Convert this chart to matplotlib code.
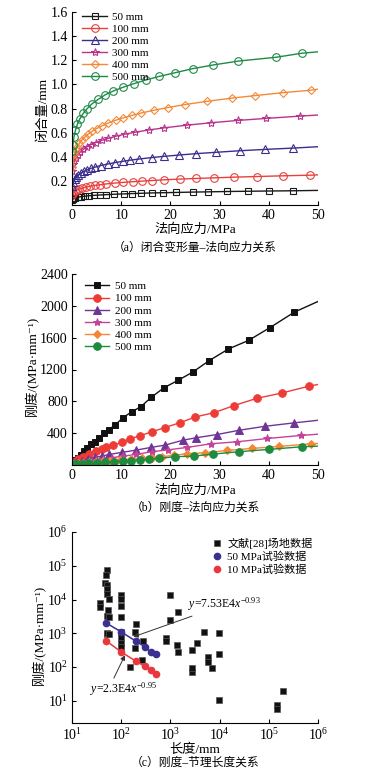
import numpy as np
import matplotlib
matplotlib.use('Agg')
import matplotlib.pyplot as plt

plt.rcParams['font.family'] = ['Liberation Serif', 'Noto Sans CJK SC', 'DejaVu Sans']
plt.rcParams['mathtext.fontset'] = 'custom'
plt.rcParams['mathtext.rm'] = 'Liberation Serif'
plt.rcParams['mathtext.it'] = 'Liberation Serif:italic'

labels = ['50 mm', '100 mm', '200 mm', '300 mm', '400 mm', '500 mm']

# (a) closure vs normal stress  (first point = origin, last point = line end at 50 MPa)
a_x_50 = [0, 0.1, 0.3, 0.5, 0.7, 1.2, 1.8, 2.6, 3.5, 4.5, 5.7, 7.0, 8.5, 10.5, 12.2, 14.0, 16.2, 18.5, 21.2, 24.5, 27.7, 31.6, 35.8, 40.0, 45.0, 50]
a_y_50 = [0, 0.042, 0.051, 0.055, 0.058, 0.064, 0.069, 0.073, 0.077, 0.080, 0.083, 0.086, 0.089, 0.092, 0.095, 0.097, 0.100, 0.102, 0.104, 0.107, 0.109, 0.112, 0.114, 0.116, 0.118, 0.121]
a_x_100 = [0, 0.1, 0.3, 0.6, 1.0, 1.5, 2.1, 2.8, 3.6, 4.6, 5.7, 7.0, 8.7, 10.3, 12.3, 14.2, 16.3, 18.8, 22.0, 25.2, 28.9, 33.0, 37.6, 42.8, 48.4, 50]
a_y_100 = [0, 0.081, 0.099, 0.112, 0.123, 0.132, 0.141, 0.148, 0.155, 0.162, 0.168, 0.175, 0.182, 0.187, 0.193, 0.198, 0.203, 0.209, 0.215, 0.220, 0.225, 0.231, 0.236, 0.242, 0.247, 0.250]
a_x_200 = [0, 0.1, 0.3, 0.6, 0.9, 1.3, 1.8, 2.4, 3.0, 3.8, 4.7, 5.8, 7.3, 8.8, 10.3, 11.7, 13.6, 16.2, 18.6, 21.7, 25.3, 29.3, 34.2, 39.3, 45.0, 50]
a_y_200 = [0, 0.157, 0.192, 0.217, 0.233, 0.249, 0.265, 0.279, 0.290, 0.303, 0.314, 0.327, 0.340, 0.352, 0.362, 0.371, 0.381, 0.393, 0.403, 0.414, 0.426, 0.437, 0.450, 0.461, 0.472, 0.483]
a_x_300 = [0, 0.1, 0.3, 0.5, 0.8, 1.2, 1.7, 2.3, 3.0, 3.8, 4.8, 6.0, 7.4, 9.0, 10.8, 12.8, 15.6, 18.8, 23.4, 28.3, 33.7, 39.5, 46.4, 50]
a_y_300 = [0, 0.283, 0.336, 0.364, 0.391, 0.417, 0.440, 0.461, 0.481, 0.499, 0.517, 0.535, 0.553, 0.571, 0.587, 0.603, 0.622, 0.640, 0.662, 0.682, 0.701, 0.718, 0.737, 0.746]
a_x_400 = [0, 0.1, 0.3, 0.5, 0.8, 1.1, 1.5, 2.0, 2.6, 3.3, 4.1, 5.0, 6.1, 7.4, 8.9, 10.3, 12.1, 14.0, 16.6, 19.5, 23.0, 27.5, 32.5, 37.2, 42.8, 48.6, 50]
a_y_400 = [0, 0.314, 0.383, 0.419, 0.456, 0.483, 0.511, 0.538, 0.563, 0.588, 0.611, 0.634, 0.656, 0.680, 0.703, 0.721, 0.742, 0.762, 0.785, 0.808, 0.833, 0.860, 0.886, 0.907, 0.931, 0.952, 0.960]
a_x_500 = [0, 0.1, 0.2, 0.4, 0.7, 1.1, 1.6, 2.3, 3.1, 4.1, 5.3, 6.8, 8.4, 10.3, 12.5, 15.0, 17.7, 21.0, 24.5, 28.7, 33.8, 41.5, 46.7, 50]
a_y_500 = [0, 0.446, 0.500, 0.565, 0.620, 0.670, 0.715, 0.760, 0.800, 0.840, 0.875, 0.915, 0.945, 0.975, 1.005, 1.036, 1.066, 1.097, 1.130, 1.161, 1.193, 1.225, 1.258, 1.270]

# (b) stiffness vs normal stress (last point = line end at 50 MPa)
b_x_50 = [0.3, 0.7, 1.3, 1.8, 2.5, 3.1, 3.8, 4.6, 5.5, 6.5, 7.5, 8.7, 10.4, 12.1, 14.0, 16.1, 18.7, 21.5, 24.5, 27.9, 31.8, 35.9, 40.2, 45.2, 50]
b_y_50 = [45, 58, 92, 129, 171, 212, 262, 292, 342, 396, 446, 500, 596, 667, 733, 850, 971, 1062, 1166, 1312, 1458, 1566, 1725, 1921, 2055]
b_x_100 = [0.4, 1.3, 2.3, 3.5, 4.9, 6.0, 7.0, 8.4, 10.1, 11.8, 13.8, 16.2, 18.9, 22.0, 25.1, 28.9, 32.9, 37.5, 42.6, 48.2, 50]
b_y_100 = [42, 75, 104, 137, 175, 196, 221, 250, 283, 329, 367, 417, 471, 533, 604, 658, 746, 837, 904, 991, 1012]
b_x_200 = [0.4, 1.0, 2.0, 3.3, 4.7, 6.0, 7.6, 10.1, 13.1, 16.0, 18.9, 22.6, 25.2, 29.5, 34.0, 39.3, 45.1, 50]
b_y_200 = [25, 38, 50, 75, 96, 112, 133, 158, 188, 220, 250, 312, 342, 383, 437, 487, 529, 562]
b_x_300 = [0.4, 1.2, 2.3, 3.5, 4.9, 6.4, 8.1, 10.4, 13.1, 16.2, 19.5, 23.4, 28.3, 33.6, 39.7, 46.5, 50]
b_y_300 = [20, 30, 40, 52, 62, 75, 92, 112, 133, 167, 190, 221, 267, 292, 333, 371, 387]
b_x_400 = [0.3, 1.2, 2.3, 3.5, 4.8, 6.2, 7.8, 9.8, 11.9, 14.2, 16.2, 18.2, 20.7, 23.3, 27.1, 31.6, 36.5, 42.1, 48.6, 50]
b_y_400 = [12, 20, 27, 34, 41, 48, 55, 62, 72, 83, 93, 104, 122, 142, 154, 183, 208, 233, 267, 270]
b_x_500 = [0.3, 1.1, 2.2, 3.4, 5.0, 6.7, 8.5, 10.4, 12.0, 13.8, 15.6, 17.6, 20.9, 24.7, 28.7, 33.9, 40.0, 46.7, 50]
b_y_500 = [8, 12, 16, 21, 27, 33, 42, 50, 56, 62, 72, 83, 104, 112, 137, 167, 196, 229, 237]

# (c) stiffness vs joint length
field_len = [37, 37, 50.7, 49, 46.8, 50.9, 50.7, 50.7, 57, 50.7, 57, 54.7, 50.7, 50.7, 57, 98, 98, 101, 101, 101, 101, 101,
             101, 197, 192, 192, 151, 260, 280, 810, 810, 980, 980, 1350, 1400, 1450, 2700, 2790, 2790, 3550, 4900,
             5900, 5900, 6900, 9750, 9800, 9750, 145000, 145000, 190000]
field_k = [7900, 6000, 73000, 54600, 30000, 27500, 20400, 14700, 10400, 3160, 3050, 5000, 980, 1050, 980, 14000, 10400, 6300,
           3050, 720, 520, 400, 1100, 1900, 1070, 370, 100, 160, 600, 720, 575, 14000, 2540, 440, 277, 4200, 71, 330,
           95, 500, 1100, 200, 138, 92, 240, 1020, 10.4, 7.6, 5.8, 20]
test_len = [50, 100, 200, 300, 400, 500]
k_50mpa = [2000, 1100, 580, 400, 277, 245]
k_10mpa = [590, 280, 148, 105, 79, 63]

colors_a = ['#1a1a1a', '#e8413c', '#3b2d8c', '#b8348c', '#f28a3a', '#1f8a48']
colors_b = ['#111111', '#ee3b35', '#6f3596', '#c4439a', '#f58634', '#1d8a3e']
markers = ['s', 'o', '^', '*', 'D', 'o']
msizes = [4.5, 5.5, 5.5, 6, 4.5, 5.5]

fig = plt.figure(figsize=(3.68, 7.75), dpi=100)
ax_a = fig.add_axes([72/368, 1-205/775, 246/368, 193/775])
ax_b = fig.add_axes([72/368, 1-465/775, 246/368, 191/775])
ax_c = fig.add_axes([72/368, 1-723/775, 246/368, 191/775])


def style(ax):
    ax.spines['top'].set_visible(False)
    ax.spines['right'].set_visible(False)
    for s in ['left', 'bottom']:
        ax.spines[s].set_linewidth(0.8)
    ax.tick_params(direction='in', labelsize=10, length=3, width=0.8, pad=3)


# ---- (a)
a_xs = [a_x_50, a_x_100, a_x_200, a_x_300, a_x_400, a_x_500]
a_ys = [a_y_50, a_y_100, a_y_200, a_y_300, a_y_400, a_y_500]
for i in range(6):
    ax_a.plot(a_xs[i], a_ys[i], color=colors_a[i], lw=1, marker=markers[i], ms=msizes[i],
              mfc='none', mew=0.8, markevery=slice(1, -1), label=labels[i])
ax_a.set_xlim(0, 50)
ax_a.set_ylim(0, 1.6)
ax_a.set_xticks([0, 10, 20, 30, 40, 50])
ax_a.set_yticks([0.2, 0.4, 0.6, 0.8, 1.0, 1.2, 1.4, 1.6])
ax_a.set_yticklabels(['0.2', '0.4', '0.6', '0.8', '1.0', '1.2', '1.4', '1.6'])
style(ax_a)
ax_a.set_xlabel('法向应力/MPa', fontsize=9.5)
ax_a.set_ylabel('闭合量/mm', fontsize=9.5)
ax_a.xaxis.set_label_coords(0.5, -0.095)
ax_a.yaxis.set_label_coords(-0.095, 0.5)
ax_a.legend(loc='upper left', frameon=False, fontsize=8, handlelength=2.2, handletextpad=0.5,
            labelspacing=0.2, borderaxespad=0.1, bbox_to_anchor=(0.02, 1.03))

# ---- (b)
b_xs = [b_x_50, b_x_100, b_x_200, b_x_300, b_x_400, b_x_500]
b_ys = [b_y_50, b_y_100, b_y_200, b_y_300, b_y_400, b_y_500]
for i in range(6):
    ax_b.plot(b_xs[i], b_ys[i], color=colors_b[i], lw=1, marker=markers[i], ms=msizes[i],
              mec=colors_b[i], mew=0.7, markevery=slice(0, -1), label=labels[i])
ax_b.set_xlim(0, 50)
ax_b.set_ylim(0, 2400)
ax_b.set_xticks([0, 10, 20, 30, 40, 50])
ax_b.set_yticks([400, 800, 1200, 1600, 2000, 2400])
style(ax_b)
ax_b.set_xlabel('法向应力/MPa', fontsize=9.5)
ax_b.set_ylabel('刚度/(MPa·mm⁻¹)', fontsize=9.5)
ax_b.xaxis.set_label_coords(0.5, -0.1)
ax_b.yaxis.set_label_coords(-0.135, 0.52)
ax_b.legend(loc='upper left', frameon=False, fontsize=8, handlelength=2.2, handletextpad=0.5,
            labelspacing=0.22, borderaxespad=0.1, bbox_to_anchor=(0.03, 0.99))

# ---- (c)
ax_c.plot(field_len, field_k, ls='none', marker='s', ms=5, mfc='#111111', mec='#555555', mew=0.5,
          label='文献[28]场地数据')
ax_c.plot(test_len, k_50mpa, color='#3a3092', lw=1.1)
ax_c.plot(test_len, k_50mpa, ls='none', marker='o', ms=4.5, color='#3a3092', label='50 MPa试验数据')
ax_c.plot(test_len, k_10mpa, color='#e8383d', lw=1.1)
ax_c.plot(test_len, k_10mpa, ls='none', marker='o', ms=4.5, color='#e8383d', label='10 MPa试验数据')
ax_c.set_xscale('log')
ax_c.set_yscale('log')
ax_c.set_xlim(10, 1e6)
ax_c.set_ylim(2.2, 1e6)
ax_c.set_xticks([1e1, 1e2, 1e3, 1e4, 1e5, 1e6])
ax_c.set_yticks([1e1, 1e2, 1e3, 1e4, 1e5, 1e6])
ax_c.minorticks_off()
style(ax_c)
ax_c.set_xlabel('长度/mm', fontsize=9.5)
ax_c.set_ylabel('刚度/(MPa·mm⁻¹)', fontsize=9.5)
ax_c.xaxis.set_label_coords(0.5, -0.11)
ax_c.yaxis.set_label_coords(-0.105, 0.46)
ax_c.legend(loc='upper right', frameon=False, fontsize=8, handletextpad=0.3, handlelength=1.2,
            labelspacing=0.25, borderaxespad=0.1, bbox_to_anchor=(1.0, 1.0))

ax_c.annotate('$y$=7.53E4$x^{-0.93}$', xy=(176, 782), xytext=(2300, 7100), fontsize=8.5,
              ha='left', va='center',
              arrowprops=dict(arrowstyle='-|>', color='#333333', lw=0.7, mutation_scale=7,
                              shrinkA=0, shrinkB=0, relpos=(0.16, 0.0)))
ax_c.annotate('$y$=2.3E4$x^{-0.95}$', xy=(119, 224), xytext=(23, 21.4), fontsize=8.5,
              ha='left', va='center',
              arrowprops=dict(arrowstyle='-|>', color='#333333', lw=0.7, mutation_scale=7,
                              shrinkA=0, shrinkB=0, relpos=(0.34, 1.0)))

# captions
fig.text(195/368, 1-248/775, '（a）闭合变形量–法向应力关系', ha='center', va='center', fontsize=8.5)
fig.text(195/368, 1-508/775, '（b）刚度–法向应力关系', ha='center', va='center', fontsize=8.5)
fig.text(195/368, 1-763/775, '（c）刚度–节理长度关系', ha='center', va='center', fontsize=8.5)

fig.savefig('out.png', dpi=100)
